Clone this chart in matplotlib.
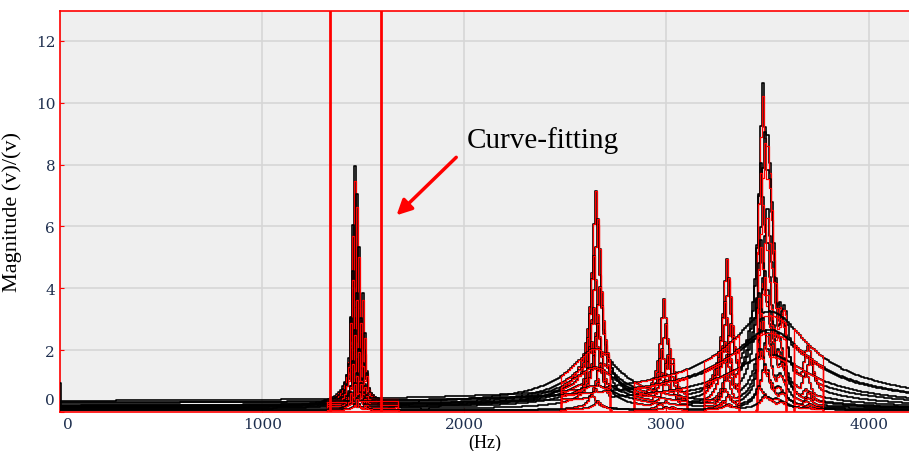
import numpy as np
import matplotlib
matplotlib.use('Agg')
import matplotlib.pyplot as plt
from matplotlib import transforms

mode_hz = [1460, 1500, 2650, 2990, 3020, 3300, 3480, 3500, 3560, 3700]
mode_zeta = [0.004, 0.004, 0.006, 0.005, 0.005, 0.005, 0.005, 0.006, 0.008, 0.006]

# peak magnitude of each mode, one value per measured FRF
amp_1460 = [7.9, 7.0, 6.0, 5.3, 4.5, 3.8, 3.0, 2.6, 2.0, 1.6, 1.2, 0.9, 0.6, 0.4]
amp_1500 = [3.8, 2.5, 1.8, 1.2, 3.0, 0.8, 1.0, 0.6, 0.5, 0.9, 0.4, 0.3, 0.2, 0.2]
amp_2650 = [7.1, 6.2, 5.0, 4.0, 3.3, 2.8, 2.2, 1.8, 1.5, 1.2, 0.9, 0.7, 0.5, 0.3]
amp_2990 = [3.6, 2.8, 2.0, 1.6, 1.2, 1.0, 0.8, 0.6, 0.5, 0.4, 0.3, 0.2, 0.2, 0.1]
amp_3020 = [2.0, 1.5, 1.1, 0.8, 1.8, 0.6, 0.5, 0.4, 0.3, 0.3, 0.2, 0.2, 0.1, 0.1]
amp_3300 = [4.9, 4.3, 3.5, 2.8, 2.2, 1.8, 1.4, 1.1, 0.9, 0.7, 0.5, 0.4, 0.3, 0.2]
amp_3480 = [10.6, 9.0, 8.0, 6.5, 5.5, 4.5, 3.8, 3.0, 2.5, 2.0, 1.5, 1.1, 0.8, 0.5]
amp_3500 = [8.9, 7.5, 6.0, 4.8, 3.9, 3.2, 2.6, 2.0, 1.6, 1.3, 1.0, 0.8, 0.6, 0.4]
amp_3560 = [3.5, 3.0, 2.5, 3.4, 2.0, 1.6, 2.8, 1.2, 1.0, 0.8, 0.6, 0.5, 0.4, 0.3]
amp_3700 = [2.1, 1.6, 1.2, 0.9, 0.7, 0.6, 0.5, 0.4, 0.3, 0.3, 0.2, 0.2, 0.1, 0.1]

# small shift of the resonances from one FRF to the next (Hz)
shift_hz = [0, 10, -10, 20, -10, 10, -20, 0, 20, -10, 10, 0, -20, 10]

# heavily damped modes seen on a few FRFs
broad_hz = [2650, 3520]
broad_zeta = [0.04, 0.05]
broad_2650 = [0, 1.2, 1.6, 0, 1.0, 0, 0.8, 2.0, 0, 1.4, 0.8, 0, 0, 0]
broad_3520 = [0, 1.5, 0, 2.5, 0, 0, 3.2, 0, 1.8, 0, 0, 2.6, 0, 0]

baseline = 0.05
dc_spike = 0.95

# curve-fitting bands (Hz) and fit gain per band
band_lo = [1320, 2475, 2840, 3185, 3445, 3630]
band_hi = [1675, 2725, 3100, 3360, 3590, 3775]
fit_gain = [0.94, 1.0, 1.0, 1.0, 0.96, 1.0]

selected_lo, selected_hi = 1337, 1589
df = 10

amps = [amp_1460, amp_1500, amp_2650, amp_2990, amp_3020,
        amp_3300, amp_3480, amp_3500, amp_3560, amp_3700]
broad_amps = [broad_2650, broad_3520]


def mode_resp(f, fn, zeta, peak):
    r = f / fn
    return peak * 2 * zeta / np.abs(1 - r ** 2 + 2j * zeta * r)


freq = np.arange(0, 4200 + df, df, dtype=float)
n_curves = len(amp_1460)

plt.rcParams['font.family'] = ['Liberation Serif', 'DejaVu Serif']
fig = plt.figure(figsize=(9.09, 4.52), dpi=100)
ax = fig.add_axes([60 / 909, 1 - 413 / 452, 849 / 909, 401 / 452])
ax.set_facecolor('#efefef')

for c in range(n_curves):
    # envelope of the single-mode responses
    mag = np.zeros_like(freq)
    for fn, z, a in zip(mode_hz, mode_zeta, amps):
        mag = np.maximum(mag, mode_resp(freq, fn + shift_hz[c], z, a[c]))
    for fn, z, a in zip(broad_hz, broad_zeta, broad_amps):
        if a[c]:
            mag = np.maximum(mag, mode_resp(freq, fn, z, a[c]))
    mag += baseline
    if c == 0:
        mag[0] = dc_spike
    ax.plot(freq, mag, color='black', lw=1.2, drawstyle='steps-mid', zorder=3)

    for lo, hi, g in zip(band_lo, band_hi, fit_gain):
        m = (freq >= lo) & (freq <= hi)
        fx = np.concatenate([[lo], freq[m], [hi]])
        fy = np.concatenate([[baseline], mag[m] * g, [baseline]])
        ax.plot(fx, fy, color='red', lw=0.9, drawstyle='steps-mid', zorder=3)

ax.axvline(selected_lo, color='red', lw=2, zorder=4)
ax.axvline(selected_hi, color='red', lw=2, zorder=4)

ax.annotate('', xy=(1655, 6.3), xytext=(1970, 8.3),
            arrowprops=dict(arrowstyle='-|>,head_length=0.9,head_width=0.45',
                            color='red', lw=2.5), zorder=5)
ax.text(2010, 8.8, 'Curve-fitting', fontsize=21, va='center', ha='left')

ax.set_xlim(0, 4200)
ax.set_ylim(0, 12.97)
ax.set_xticks([0, 1000, 2000, 3000, 4000])
ax.set_yticks([0, 2, 4, 6, 8, 10, 12])
ax.grid(True, color='#d6d6d6', lw=1.2, zorder=0)
ax.set_axisbelow(True)

for s in ['left', 'top', 'bottom']:
    ax.spines[s].set_color('red')
    ax.spines[s].set_linewidth(1.2)
ax.spines['right'].set_visible(False)

ax.tick_params(direction='in', color='red', length=3, labelsize=11,
               labelcolor='#1e2f4f')
for lab in ax.get_xticklabels() + ax.get_yticklabels():
    lab.set_fontfamily('DejaVu Serif')
ax.get_yticklabels()[0].set_transform(
    ax.get_yticklabels()[0].get_transform()
    + transforms.ScaledTranslation(0, 0.13, fig.dpi_scale_trans))
ax.get_xticklabels()[0].set_transform(
    ax.get_xticklabels()[0].get_transform()
    + transforms.ScaledTranslation(0.08, 0, fig.dpi_scale_trans))

ax.set_ylabel('Magnitude (v)/(v)', fontsize=16, labelpad=10)
ax.set_xlabel('(Hz)', fontsize=13, labelpad=2)

fig.savefig('out.png', dpi=100)
